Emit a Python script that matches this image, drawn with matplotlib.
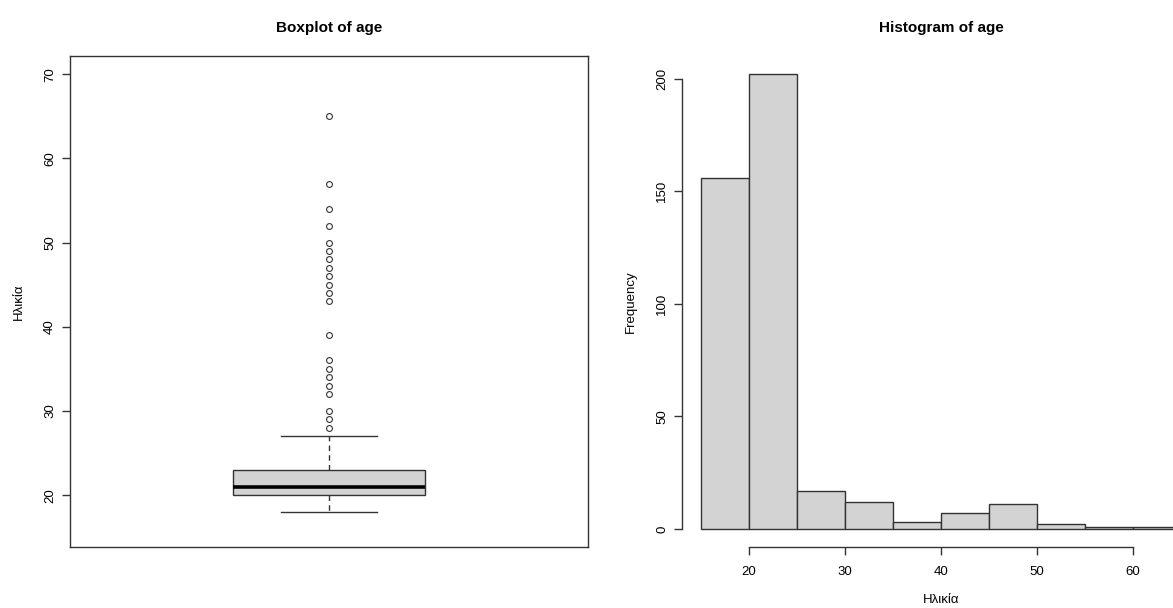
import numpy as np
import matplotlib
matplotlib.use("Agg")
import matplotlib.pyplot as plt

plt.rcParams['font.family'] = ['Liberation Sans', 'DejaVu Sans']

# summary of age for the boxplot
age_min_whisker = 18
age_q1 = 20
age_median = 21
age_q3 = 23
age_max_whisker = 27
age_outliers = [28, 29, 30, 32, 33, 34, 35, 36, 39, 43, 44, 45, 46, 47,
                48, 49, 50, 52, 54, 57, 65]

# histogram bins (width 5) and counts
bin_edges = [15, 20, 25, 30, 35, 40, 45, 50, 55, 60, 65]
bin_counts = [156, 202, 17, 12, 3, 7, 11, 2, 1, 1]

box_ticks = [20, 30, 40, 50, 60, 70]
hist_yticks = [0, 50, 100, 150, 200]
hist_xticks = [20, 30, 40, 50, 60]

W, H = 1173, 608
fig = plt.figure(figsize=(W / 100, H / 100), dpi=100)

line_col = '#333333'
fill_col = '#d3d3d3'

# ---- boxplot ----
ax1 = fig.add_axes([70 / W, 1 - 547 / H, 518 / W, 491 / H])
stats = [dict(med=age_median, q1=age_q1, q3=age_q3,
              whislo=age_min_whisker, whishi=age_max_whisker,
              fliers=age_outliers)]
ax1.bxp(stats, positions=[1], widths=0.4, capwidths=0.2, patch_artist=True,
        boxprops=dict(facecolor=fill_col, edgecolor=line_col, linewidth=1),
        medianprops=dict(color='black', linewidth=2.6),
        whiskerprops=dict(color=line_col, linewidth=1, linestyle=(0, (4, 3))),
        capprops=dict(color=line_col, linewidth=1),
        flierprops=dict(marker='o', markersize=4.2, markerfacecolor='none',
                        markeredgecolor=line_col, markeredgewidth=0.8))
ax1.set_xlim(0.46, 1.54)
ax1.set_ylim(13.84, 72.16)
ax1.set_xticks([])
ax1.set_yticks(box_ticks)
ax1.set_yticklabels([str(t) for t in box_ticks], rotation=90, va='center')
ax1.tick_params(axis='y', length=6, width=1, color=line_col, labelsize=9.5,
                pad=4)
for s in ax1.spines.values():
    s.set_color(line_col)
    s.set_linewidth(1)
ax1.set_ylabel('Ηλικία', fontsize=9.5, labelpad=14)
ax1.set_title('Boxplot of age', fontsize=11, fontweight='bold', pad=17.5)

# ---- histogram ----
ax2 = fig.add_axes([682 / W, 1 - 547 / H, 518 / W, 491 / H])
ax2.bar(bin_edges[:-1], bin_counts, width=np.diff(bin_edges), align='edge',
        color=fill_col, edgecolor=line_col, linewidth=1)
ax2.set_xlim(13, 67)
ax2.set_ylim(-8.08, 210.08)
ax2.spines['top'].set_visible(False)
ax2.spines['right'].set_visible(False)
ax2.spines['left'].set_bounds(0, 200)
ax2.spines['bottom'].set_bounds(20, 60)
for s in ('left', 'bottom'):
    ax2.spines[s].set_color(line_col)
    ax2.spines[s].set_linewidth(1)
ax2.set_yticks(hist_yticks)
ax2.set_yticklabels([str(t) for t in hist_yticks], rotation=90, va='center')
ax2.set_xticks(hist_xticks)
ax2.tick_params(axis='y', length=6, width=1, color=line_col, labelsize=9.5,
                pad=4)
ax2.tick_params(axis='x', length=6, width=1, color=line_col, labelsize=9.5,
                pad=8)
ax2.set_ylabel('Frequency', fontsize=9.5, labelpad=14)
ax2.set_xlabel('Ηλικία', fontsize=9.5, labelpad=11)
ax2.set_title('Histogram of age', fontsize=11, fontweight='bold', pad=17.5)

fig.savefig('out.png', dpi=100)
